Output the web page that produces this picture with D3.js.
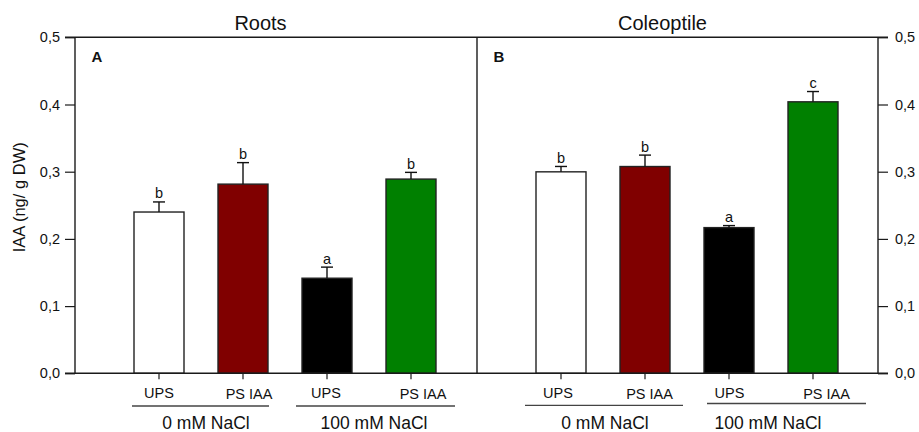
<!DOCTYPE html>
<html>
<head>
<meta charset="utf-8">
<script src="https://cdn.jsdelivr.net/npm/d3@7"></script>
<style>
  html, body { margin: 0; padding: 0; background: #fff; }
  svg { display: block; font-family: "Liberation Sans", Arial, sans-serif; }
</style>
</head>
<body>
<svg id="chart" width="919" height="432"></svg>
<script>
// IAA content (ng/g DW) in roots and coleoptiles, unprimed (UPS) vs IAA-primed (PS IAA) seeds
const treatments = ["UPS", "PS IAA", "UPS", "PS IAA"];
const salinity = ["0 mM NaCl", "100 mM NaCl"];
const panelTitles = ["Roots", "Coleoptile"];
const panelTags = ["A", "B"];
const barColors = ["#ffffff", "#800000", "#000000", "#008000"];

const rootsIAA = [0.240, 0.2815, 0.1415, 0.289];
const rootsSE = [0.015, 0.032, 0.0165, 0.010];
const rootsLetters = ["b", "b", "a", "b"];

const coleoptileIAA = [0.2998, 0.3077, 0.2168, 0.404];
const coleoptileSE = [0.008, 0.017, 0.003, 0.0153];
const coleoptileLetters = ["b", "b", "a", "c"];

const yTicks = [0, 0.1, 0.2, 0.3, 0.4, 0.5];

const panels = [
  { title: panelTitles[0], tag: panelTags[0], values: rootsIAA, se: rootsSE, letters: rootsLetters },
  { title: panelTitles[1], tag: panelTags[1], values: coleoptileIAA, se: coleoptileSE, letters: coleoptileLetters }
];

const svg = d3.select("#chart");
const plotTop = 37.3, plotBottom = 373.3;
const panelLeft = [75, 477];
const panelWidth = 401;
const axisColor = "#1a1a1a";

const y = d3.scaleLinear().domain([0, 0.5]).range([plotBottom, plotTop]);
const x = d3.scalePoint().domain(d3.range(treatments.length)).range([84, 336]);
const barW = 50;

const commaLocale = d3.formatLocale({ decimal: ",", thousands: ".", grouping: [3], currency: ["", ""] });
const fmt = commaLocale.format(".1f");

// axes: left on panel A, right on panel B
const leftAxis = d3.axisLeft(y).tickValues(yTicks).tickFormat(fmt).tickSize(10).tickPadding(5);
const rightAxis = d3.axisRight(y).tickValues(yTicks).tickFormat(fmt).tickSize(10).tickPadding(7);

function styleAxis(g) {
  g.select(".domain").remove();
  g.selectAll(".tick line").attr("stroke", axisColor).attr("stroke-width", 1.2);
  g.selectAll(".tick text").attr("fill", "#111").style("font-size", "14.5px")
    .style("font-family", "'Liberation Sans', Arial, sans-serif");
}
svg.append("g").attr("transform", `translate(${panelLeft[0]},0)`).call(leftAxis).call(styleAxis);
svg.append("g").attr("transform", `translate(${panelLeft[1] + panelWidth},0)`).call(rightAxis).call(styleAxis);

// y-axis title
svg.append("text")
  .attr("transform", `translate(25,${(plotTop + plotBottom) / 2 - 8}) rotate(-90)`)
  .attr("text-anchor", "middle")
  .style("font-size", "16.5px")
  .attr("fill", "#111")
  .text("IAA (ng/ g DW)");

// per-panel rule spans under treatment pairs (relative to bar centres)
const ruleSpan = [
  [[-27, 26, 406], [-31, 44, 406]],
  [[-36, 38, 405.3], [-22, 53, 403.5]]
];
const labelShift = [[0, 6, -1, 12], [-3, 4.5, 0.5, 13.5]];
const groupLabelShift = [[5, 5], [2, -3]];

panels.forEach((p, pi) => {
  const g = svg.append("g").attr("transform", `translate(${panelLeft[pi]},0)`);

  // bars
  g.selectAll("rect.bar").data(p.values).join("rect")
    .attr("class", "bar")
    .attr("x", (d, i) => x(i) - barW / 2)
    .attr("width", barW)
    .attr("y", d => y(d))
    .attr("height", d => y(0) - y(d))
    .attr("fill", (d, i) => barColors[i])
    .attr("stroke", "#222")
    .attr("stroke-width", 1.4);

  // upper error bars
  p.values.forEach((v, i) => {
    const cx = x(i), ytop = y(v + p.se[i]);
    g.append("line").attr("x1", cx).attr("x2", cx).attr("y1", y(v)).attr("y2", ytop)
      .attr("stroke", "#111").attr("stroke-width", 1.4);
    g.append("line").attr("x1", cx - 6).attr("x2", cx + 6).attr("y1", ytop).attr("y2", ytop)
      .attr("stroke", "#111").attr("stroke-width", 1.4);
    g.append("text").attr("x", cx).attr("y", ytop - 3.5)
      .attr("text-anchor", "middle").style("font-size", "14.5px").attr("fill", "#111")
      .text(p.letters[i]);
  });

  // x ticks
  treatments.forEach((t, i) => {
    g.append("line").attr("x1", x(i)).attr("x2", x(i)).attr("y1", plotBottom).attr("y2", plotBottom + 6)
      .attr("stroke", axisColor).attr("stroke-width", 1.2);
    g.append("text").attr("x", x(i) + labelShift[pi][i]).attr("y", t === "UPS" ? 397.5 : 399)
      .attr("text-anchor", "middle").style("font-size", "14.5px").attr("fill", "#111")
      .text(t);
  });

  // salinity groups
  salinity.forEach((s, gi) => {
    const a = x(gi * 2), b = x(gi * 2 + 1);
    const [d0, d1, ry] = ruleSpan[pi][gi];
    g.append("line").attr("x1", a + d0).attr("x2", b + d1).attr("y1", ry).attr("y2", ry)
      .attr("stroke", "#444").attr("stroke-width", 1.3);
    g.append("text").attr("x", (a + b) / 2 + groupLabelShift[pi][gi]).attr("y", 429)
      .attr("text-anchor", "middle").style("font-size", "17.5px").attr("fill", "#111")
      .text(s);
  });

  // panel title and tag
  g.append("text").attr("x", panelWidth / 2 - 15).attr("y", 30)
    .attr("text-anchor", "middle").style("font-size", "20px").attr("fill", "#111")
    .text(p.title);
  g.append("text").attr("x", 16.5).attr("y", 61.5)
    .style("font-size", "15px").style("font-weight", "bold").attr("fill", "#111")
    .text(p.tag);
});

// frame: top rule, baseline, left/right axes and panel divider
const frame = svg.append("g").attr("stroke", axisColor).attr("stroke-width", 1.4);
frame.append("line").attr("x1", panelLeft[0] - 10).attr("x2", panelLeft[1] + panelWidth + 10)
  .attr("y1", y(0.5)).attr("y2", y(0.5));
frame.append("line").attr("x1", panelLeft[0] - 10).attr("x2", panelLeft[1] + panelWidth + 10)
  .attr("y1", y(0)).attr("y2", y(0));
[panelLeft[0], panelLeft[1], panelLeft[1] + panelWidth].forEach(px => {
  frame.append("line").attr("x1", px).attr("x2", px).attr("y1", y(0.5)).attr("y2", y(0));
});
</script>
</body>
</html>
